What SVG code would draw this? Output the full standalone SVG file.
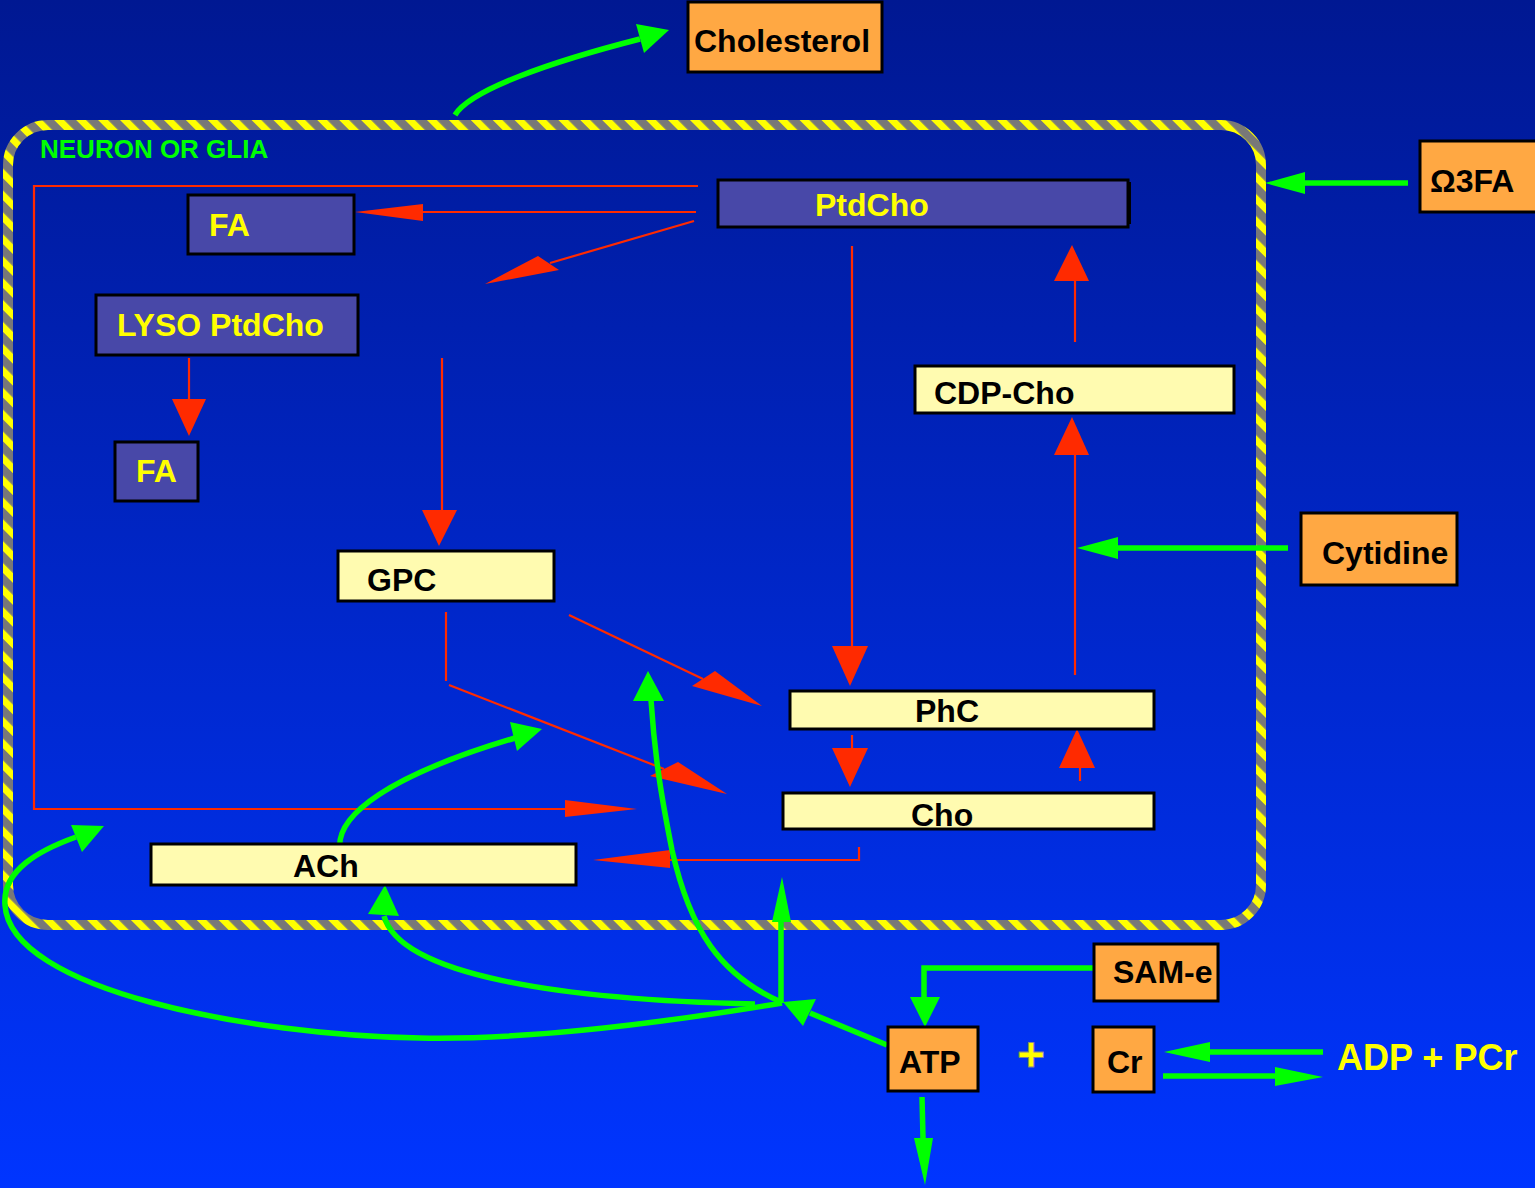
<svg xmlns="http://www.w3.org/2000/svg" width="1535" height="1188" viewBox="0 0 1535 1188">
<defs>
<linearGradient id="bg" x1="0" y1="0" x2="0" y2="1">
<stop offset="0" stop-color="#001892"/>
<stop offset="1" stop-color="#0035ff"/>
</linearGradient>
<pattern id="hazard" width="15.5" height="15.5" patternUnits="userSpaceOnUse" patternTransform="rotate(-45)">
<rect width="15.5" height="15.5" fill="#787878"/>
<rect width="7" height="15.5" fill="#ffff00"/>
</pattern>
<style>
text{font-family:"Liberation Sans",Arial,Helvetica,sans-serif;font-weight:bold;}
.t{font-size:32px;}
.yt{fill:#ffff00;}
.bt{fill:#000;}
.pur{fill:#4848a8;stroke:#000;stroke-width:3;}
.lem{fill:#fffbb0;stroke:#000;stroke-width:3;}
.org{fill:#ffa843;stroke:#000;stroke-width:3;}
.rl{fill:none;stroke:#ff2a00;stroke-width:2.2;}
.rh{fill:#ff2a00;}
.gl{fill:none;stroke:#00ff00;stroke-width:5.5;}
.gh{fill:#00ff00;}
</style>
</defs>
<rect width="1535" height="1188" fill="url(#bg)"/>
<g id="membrane">
<rect x="8" y="125" width="1253" height="800" rx="40" ry="40" fill="none" stroke="url(#hazard)" stroke-width="10"/>
<text x="40" y="158" font-size="26" fill="#00ff00">NEURON OR GLIA</text>
</g>
<g id="connectors">
<g id="red">
<path class="rl" d="M698,186 H34 V809 H566"/>
<polygon class="rh" points="637,809 565,800 565,817"/>
<path class="rl" d="M696,212 H423"/>
<polygon class="rh" points="355,212 423,204 423,221"/>
<path class="rl" d="M694,221 L550,263"/>
<polygon class="rh" points="485,284 538,256 559,270"/>
<path class="rl" d="M189,358 L189,400"/>
<polygon class="rh" points="189,436 172,399 206,399"/>
<path class="rl" d="M442,358 V510"/>
<polygon class="rh" points="439,546 422,510 457,510"/>
<path class="rl" d="M852,246 V646"/>
<polygon class="rh" points="850,686 832,646 868,646"/>
<path class="rl" d="M569,615 L703,679"/>
<polygon class="rh" points="762,706 692,686 715,671"/>
<path class="rl" d="M446,612 V681"/>
<path class="rl" d="M449,685 L664,769"/>
<polygon class="rh" points="727,794 650,776 678,762"/>
<path class="rl" d="M852,735 V748"/>
<polygon class="rh" points="850,787 832,748 868,748"/>
<path class="rl" d="M1080,781 V768"/>
<polygon class="rh" points="1077,729 1059,768 1095,768"/>
<path class="rl" d="M1075,675 V455"/>
<polygon class="rh" points="1072,417 1054,455 1089,455"/>
<path class="rl" d="M1075,342 V281"/>
<polygon class="rh" points="1072,245 1054,281 1089,281"/>
<path class="rl" d="M859,847 V860 H670"/>
<polygon class="rh" points="593,860 670,850 670,868"/>
</g>
<g id="green">
<path class="gl" d="M455,115 C470,90 550,62 640,39"/>
<polygon class="gh" points="669,30 636,24 644,53"/>
<path class="gl" d="M1408,183 H1305"/>
<polygon class="gh" points="1265,183 1305,172 1305,194"/>
<path class="gl" d="M1288,548 H1118"/>
<polygon class="gh" points="1077,548 1118,537 1118,559"/>
<path class="gl" d="M1094,968 H924 V997"/>
<polygon class="gh" points="925,1027 910,997 940,997"/>
<path class="gl" d="M922,1097 L923,1138"/>
<polygon class="gh" points="925,1185 914,1138 933,1138"/>
<path class="gl" d="M1323,1052 H1210"/>
<polygon class="gh" points="1164,1052 1210,1042 1210,1062"/>
<path class="gl" d="M1163,1076 H1275"/>
<polygon class="gh" points="1323,1077 1275,1067 1275,1086"/>
<path class="gl" d="M887,1045 L810,1013"/>
<polygon class="gh" points="783,1002 816,999 803,1026"/>
<path class="gl" d="M781,1003 V922"/>
<polygon class="gh" points="782,877 772,922 791,922"/>
<path class="gl" d="M755,1004 C560,1000 400,975 384,916"/>
<polygon class="gh" points="385,885 368,914 399,916"/>
<path class="gl" d="M782,1003 C650,1025 520,1040 420,1038 C250,1035 10,990 5,905 C2,870 40,850 76,837"/>
<polygon class="gh" points="104,826 71,825 82,852"/>
<path class="gl" d="M340,850 C335,815 390,775 515,738"/>
<polygon class="gh" points="542,729 510,722 517,751"/>
<path class="gl" d="M781,1002 C720,975 690,930 672,850 C662,800 655,760 651,700"/>
<polygon class="gh" points="648,671 633,701 664,701"/>
</g>
</g>
<g id="cholesterol"><rect class="org" x="688" y="2" width="194" height="70"/><text class="t bt" x="694" y="52">Cholesterol</text></g>
<g id="ptdcho"><rect x="1126" y="182" width="5" height="42" fill="#000"/><rect class="pur" x="718" y="180" width="410" height="47"/><text class="t yt" x="815" y="216">PtdCho</text></g>
<g id="fa1"><rect class="pur" x="188" y="195" width="166" height="59"/><text class="t yt" x="209" y="236">FA</text></g>
<g id="lyso"><rect class="pur" x="96" y="295" width="262" height="60"/><text class="t yt" x="117" y="336">LYSO PtdCho</text></g>
<g id="fa2"><rect class="pur" x="115" y="442" width="83" height="59"/><text class="t yt" x="136" y="482">FA</text></g>
<g id="cdpcho"><rect class="lem" x="915" y="366" width="319" height="47"/><text class="t bt" x="934" y="404">CDP-Cho</text></g>
<g id="gpc"><rect class="lem" x="338" y="551" width="216" height="50"/><text class="t bt" x="367" y="591">GPC</text></g>
<g id="phc"><rect class="lem" x="790" y="691" width="364" height="38"/><text class="t bt" x="915" y="722">PhC</text></g>
<g id="cho"><rect class="lem" x="783" y="793" width="371" height="36"/><text class="t bt" x="911" y="826">Cho</text></g>
<g id="ach"><rect class="lem" x="151" y="844" width="425" height="41"/><text class="t bt" x="293" y="877">ACh</text></g>
<g id="omega3fa"><rect class="org" x="1420" y="141" width="120" height="71"/><text class="t bt" x="1430" y="192">Ω3FA</text></g>
<g id="cytidine"><rect class="org" x="1301" y="513" width="156" height="72"/><text class="t bt" x="1322" y="564">Cytidine</text></g>
<g id="same"><rect class="org" x="1094" y="944" width="124" height="57"/><text class="t bt" x="1113" y="983">SAM-e</text></g>
<g id="atp"><rect class="org" x="888" y="1027" width="90" height="64"/><text class="t bt" x="899" y="1073">ATP</text></g>
<g id="plus"><text x="1031" y="1071" font-size="48" text-anchor="middle" fill="#ffff00" stroke="#888" stroke-width="0.8">+</text></g>
<g id="cr"><rect class="org" x="1093" y="1027" width="61" height="65"/><text class="t bt" x="1107" y="1073">Cr</text></g>
<g id="adppcr"><text x="1337" y="1070" font-size="36" fill="#ffff00">ADP + PCr</text></g>
</svg>
